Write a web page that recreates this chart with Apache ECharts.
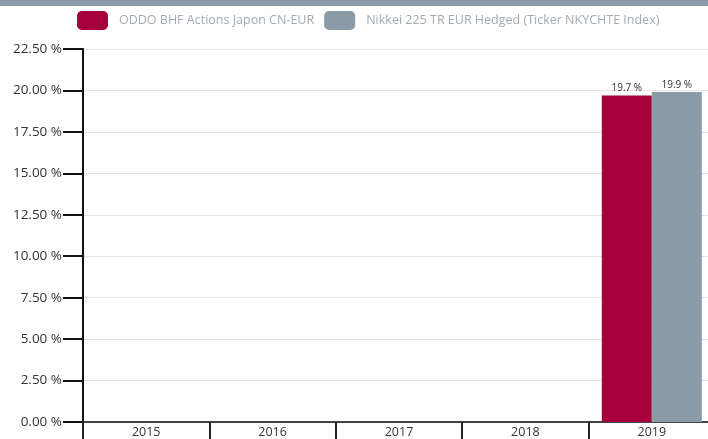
<!DOCTYPE html>
<html><head><meta charset="utf-8">
<script src="https://cdn.jsdelivr.net/npm/echarts@6/dist/echarts.min.js"></script>
<style>html,body{margin:0;padding:0;background:#fff}#c{width:708px;height:439px}</style>
</head><body><div id="c"></div>
<script>
const categories = ['2015','2016','2017','2018','2019'];
const seriesNames = ['ODDO BHF Actions Japon CN-EUR','Nikkei 225 TR EUR Hedged (Ticker NKYCHTE Index)'];
const fundValues = [null, null, null, null, 19.7];
const indexValues = [null, null, null, null, 19.9];
const colors = ['#a5003c', '#8a9ba8'];

const chart = echarts.init(document.getElementById('c'), null, {renderer:'canvas'});
const labelCfg = {show:true, position:'top', distance:2, fontSize:10, color:'#333', fontFamily:'Open Sans',
  formatter: p => p.value.toFixed(1) + ' %'};
chart.setOption({
  animation:false,
  textStyle:{fontFamily:'Open Sans'},
  graphic:[{type:'rect', left:0, top:0, shape:{width:708, height:6}, style:{fill:'#8a9ba8'}}],
  legend:{
    left:72, top:6, itemWidth:31, itemHeight:19, itemGap:10, icon:'roundRect',
    textStyle:{color:'#a3abb2', fontSize:12.5, fontFamily:'Open Sans', padding:[0,0,0,6]},
    data: seriesNames
  },
  grid:{left:83, right:-7, top:49, bottom:17, containLabel:false, outerBoundsMode:'none'},
  xAxis:{
    type:'category', data:categories, boundaryGap:true,
    axisLine:{show:true, lineStyle:{color:'#444', width:2}},
    axisTick:{show:true, length:17, lineStyle:{color:'#222', width:2}},
    axisLabel:{color:'#333', fontSize:12.5, margin:4}
  },
  yAxis:{
    type:'value', min:0, max:22.5, interval:2.5,
    axisLine:{show:true, lineStyle:{color:'#111', width:2}},
    axisTick:{show:true, length:20, lineStyle:{color:'#111', width:2}},
    axisLabel:{color:'#333', fontSize:13.5, margin:21, formatter: v => v.toFixed(2) + ' %'},
    splitLine:{show:true, lineStyle:{color:'#e3e3e3', width:1}}
  },
  series:[
    {name:seriesNames[0], type:'bar', data:fundValues, barWidth:50, barGap:'0%', itemStyle:{color:colors[0]}, label:labelCfg},
    {name:seriesNames[1], type:'bar', data:indexValues, barWidth:50, barGap:'0%', itemStyle:{color:colors[1]}, label:labelCfg}
  ]
});
</script></body></html>
